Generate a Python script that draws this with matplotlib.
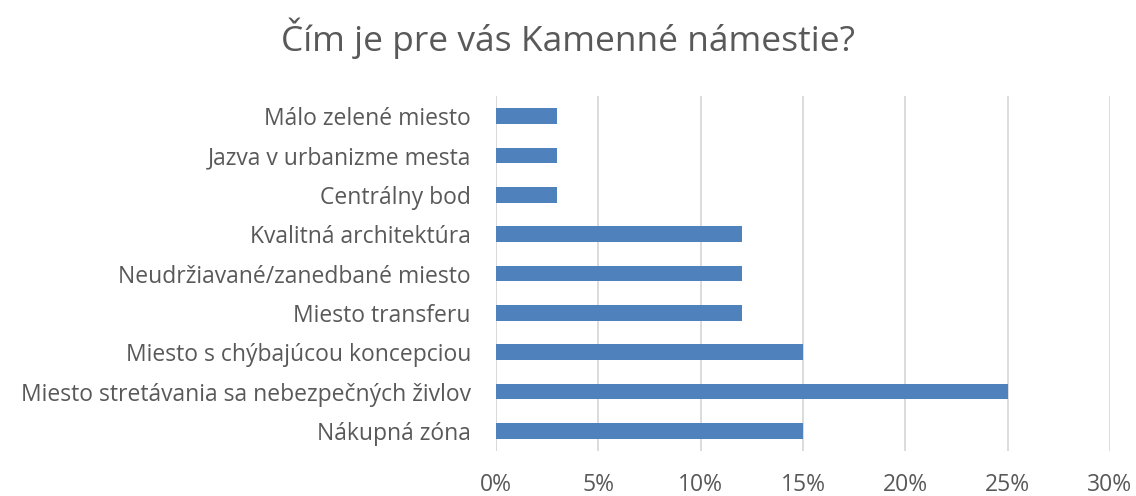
import matplotlib.pyplot as plt
from matplotlib.ticker import FuncFormatter

plt.rcParams['font.family'] = ['Open Sans', 'DejaVu Sans']

categories = [
    "Málo zelené miesto",
    "Jazva v urbanizme mesta",
    "Centrálny bod",
    "Kvalitná architektúra",
    "Neudržiavané/zanedbané miesto",
    "Miesto transferu",
    "Miesto s chýbajúcou koncepciou",
    "Miesto stretávania sa nebezpečných živlov",
    "Nákupná zóna",
]
values = [3, 3, 3, 12, 12, 12, 15, 25, 15]

text_color = "#595959"
bar_color = "#4F81BD"

fig = plt.figure(figsize=(11.36, 4.96), dpi=100)
ax = fig.add_axes([0.4366, 0.0915, 0.5405, 0.7141])

ypos = list(range(len(categories)))
ax.barh(ypos, values, height=0.4, color=bar_color, zorder=3)
ax.set_yticks(ypos)
ax.set_yticklabels(categories)
ax.set_ylim(len(categories) - 0.5, -0.5)
ax.set_xlim(0, 30)
ax.set_xticks(range(0, 31, 5))
ax.xaxis.set_major_formatter(FuncFormatter(lambda v, p: f"{int(v)}%"))

ax.grid(axis="x", color="#D9D9D9", linewidth=1.3, zorder=0)
for s in ax.spines.values():
    s.set_visible(False)
ax.axvline(0, color="#D9D9D9", linewidth=1.3, zorder=1)
ax.tick_params(axis="both", length=0, labelsize=16.5, colors=text_color)
ax.tick_params(axis="y", pad=18)
ax.tick_params(axis="x", pad=16)

fig.suptitle("Čím je pre vás Kamenné námestie?", y=0.965, fontsize=25.5, color=text_color)

fig.savefig("out.png", dpi=100)
